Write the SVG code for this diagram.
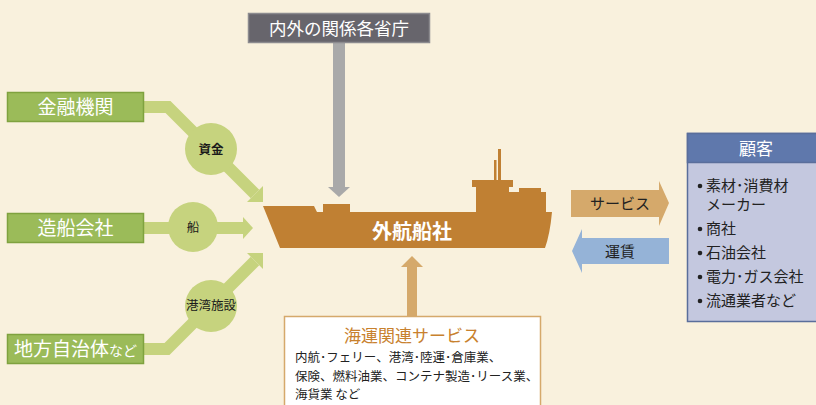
<svg xmlns="http://www.w3.org/2000/svg" width="816" height="405" viewBox="0 0 816 405">
  <style>
    .jp { font-family: "Noto Sans CJK JP", "Noto Sans", sans-serif; }
    .src rect { fill: #9BBB59; stroke: #7FA23F; stroke-width: 1.5; }
    .src text { fill: #ffffff; font-size: 19px; }
    .flow { fill: none; stroke: #C6D37E; stroke-width: 12; stroke-linejoin: miter; }
    .head { fill: #C6D37E; }
    .bub { fill: #C6D37E; }
    .bubtxt { fill: #1a1a1a; font-size: 12.5px; text-anchor: middle; }
    .item { fill: #222222; font-size: 15px; }
    .dot { fill: #222222; }
    .svc { fill: #222222; font-size: 12.5px; }
  </style>

  <rect x="0" y="0" width="816" height="405" fill="#F9F1DD"/>

  <!-- connectors -->
  <g id="connectors">
    <!-- finance -> operator -->
    <polyline class="flow" points="143,107 168,107 255,194"/>
    <polygon class="head" points="263,202 263,186 247,202"/>
    <!-- shipbuilders -> operator -->
    <line class="flow" x1="143" y1="228" x2="244" y2="228"/>
    <polygon class="head" points="243,217 253,228 243,239"/>
    <!-- local gov -> operator -->
    <polyline class="flow" points="143,349 167,349 255,261"/>
    <polygon class="head" points="263,253 247,253 263,269"/>
    <!-- ministries -> operator -->
    <rect x="333" y="43" width="12" height="145" fill="#A9A9A9"/>
    <polygon points="328,187 350,187 339,197" fill="#A9A9A9"/>
    <!-- related services -> operator -->
    <rect x="407" y="266" width="10" height="51" fill="#D5A96B"/>
    <polygon points="401,267 423,267 412,256" fill="#D5A96B"/>
    <!-- service -> customers -->
    <polygon points="571,190 659,190 659,181 669,203 659,226 659,217 571,217" fill="#D5A96B"/>
    <text class="jp" x="620" y="208.5" font-size="15" fill="#222" text-anchor="middle">サービス</text>
    <!-- freight <- customers -->
    <polygon points="669,238 582,238 582,229 572,251 582,273 582,264 669,264" fill="#95B3D7"/>
    <text class="jp" x="620" y="256.5" font-size="15" fill="#222" text-anchor="middle">運賃</text>
  </g>

  <!-- labels on connectors -->
  <g id="label-funds">
    <circle class="bub" cx="211" cy="149" r="26"/>
    <text class="jp bubtxt" x="211" y="153.5" font-weight="bold">資金</text>
  </g>
  <g id="label-ship">
    <circle class="bub" cx="193" cy="227" r="25"/>
    <text class="jp bubtxt" x="193" y="231.5">船</text>
  </g>
  <g id="label-port">
    <circle class="bub" cx="211" cy="306" r="26"/>
    <text class="jp bubtxt" x="211" y="310" font-size="11.5">港湾施設</text>
  </g>

  <!-- source nodes -->
  <g id="finance" class="src">
    <rect x="7.5" y="92.5" width="136" height="29"/>
    <text class="jp" x="75.5" y="114" text-anchor="middle">金融機関</text>
  </g>
  <g id="shipbuilders" class="src">
    <rect x="7.5" y="213.5" width="136" height="29"/>
    <text class="jp" x="75.5" y="235" text-anchor="middle">造船会社</text>
  </g>
  <g id="localgov" class="src">
    <rect x="7.5" y="334.5" width="136" height="29"/>
    <text class="jp" x="14" y="356">地方自治体<tspan font-size="14">など</tspan></text>
  </g>

  <g id="ministries">
    <rect x="248.5" y="13.5" width="181" height="29" fill="#67656C" stroke="#8C8B8F" stroke-width="1.5"/>
    <text class="jp" x="339" y="35" font-size="17.5" fill="#ffffff" text-anchor="middle">内外の関係各省庁</text>
  </g>

  <!-- the shipping operator, drawn as a cargo ship -->
  <g id="operator">
    <path d="M263,206 H314 L317,212 H323 V204 H350 V212 H476 V187 H472 V180 H513 V187 H509 V192 H519 V188 H541 V192 H546 V212 H552 Q550,234 545,248 H280 Z" fill="#C08033"/>
    <rect x="498" y="149" width="3" height="32" fill="#C08033"/>
    <rect x="494" y="160" width="2.5" height="21" fill="#C08033"/>
    <text class="jp" x="412" y="239" font-size="20" font-weight="bold" fill="#ffffff" text-anchor="middle">外航船社</text>
  </g>

  <g id="services">
    <rect x="284.5" y="316.5" width="256" height="100" fill="#ffffff" stroke="#D5A96B" stroke-width="1.5"/>
    <text class="jp" x="412" y="342" font-size="17" fill="#C8812E" text-anchor="middle">海運関連サービス</text>
    <text class="jp svc" x="295" y="362">内航･フェリー、港湾･陸運･倉庫業、</text>
    <text class="jp svc" x="295" y="381">保険、燃料油業、コンテナ製造･リース業、</text>
    <text class="jp svc" x="295" y="399">海貨業 など</text>
  </g>

  <g id="customers">
    <rect x="687.5" y="133.5" width="130" height="188" fill="#C4C8DF" stroke="#5A6E9B" stroke-width="1.5"/>
    <rect x="687.5" y="133.5" width="130" height="29" fill="#5F78AC" stroke="#5A6E9B" stroke-width="1.5"/>
    <text class="jp" x="756" y="154.5" font-size="17" fill="#ffffff" text-anchor="middle">顧客</text>
    <circle class="dot" cx="700" cy="186" r="2.3"/>
    <text class="jp item" x="706" y="191">素材･消費材</text>
    <text class="jp item" x="706" y="209.5">メーカー</text>
    <circle class="dot" cx="700" cy="229" r="2.3"/>
    <text class="jp item" x="706" y="234">商社</text>
    <circle class="dot" cx="700" cy="253" r="2.3"/>
    <text class="jp item" x="706" y="258">石油会社</text>
    <circle class="dot" cx="700" cy="277" r="2.3"/>
    <text class="jp item" x="706" y="282">電力･ガス会社</text>
    <circle class="dot" cx="700" cy="301" r="2.3"/>
    <text class="jp item" x="706" y="306">流通業者など</text>
  </g>
</svg>
